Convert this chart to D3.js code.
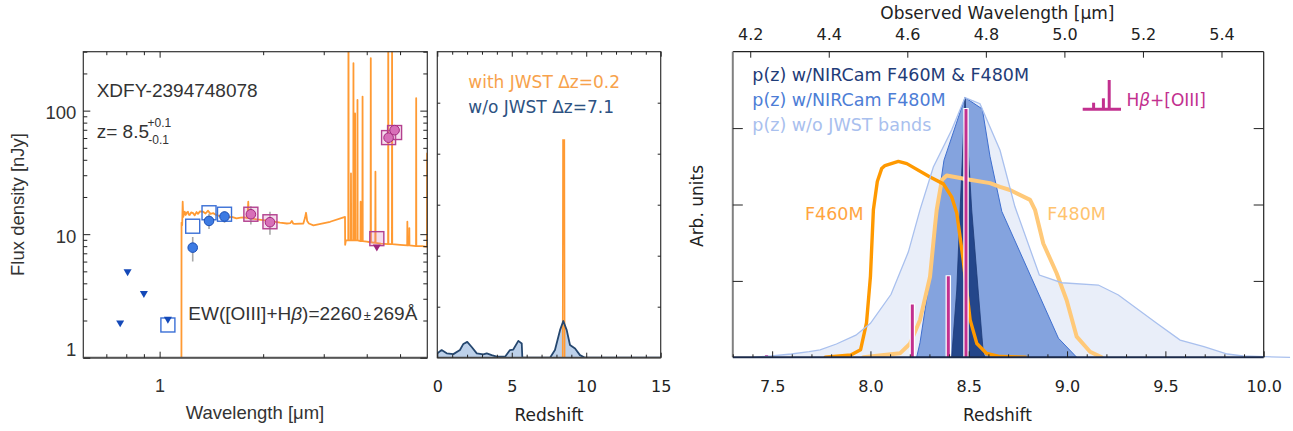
<!DOCTYPE html>
<html><head><meta charset="utf-8">
<script src="https://cdn.jsdelivr.net/npm/d3@7"></script>
<style>body{margin:0;background:#fff}svg{display:block}</style>
</head><body>
<svg id="c" width="1293" height="431"></svg>
<script>
// ---------------- DATA ----------------
// Panel 1: SED (wavelength in micron, flux density in nJy)
const sedModel = [
 [1.150,0.5],[1.157,0.5],[1.158,12.4],[1.163,11.8],[1.167,18.3],[1.171,13.8],[1.178,14.6],[1.183,15.2],
 [1.191,14.3],[1.200,15.0],[1.209,15.2],[1.215,14.4],[1.223,14.3],[1.235,15.0],[1.251,14.8],[1.265,14.2],
 [1.280,15.1],[1.293,14.6],[1.310,15.3],[1.338,15.2],[1.360,14.7],[1.383,15.5],[1.405,14.6],[1.431,14.8],
 [1.460,14.3],[1.496,14.0],[1.540,14.1],[1.582,13.7],[1.620,13.8],[1.673,13.4],[1.720,13.6],[1.769,13.7],
 [1.800,13.5],[1.810,18.3],[1.818,13.6],[1.830,13.4],[1.913,13.2],[2.000,13.0],[2.092,12.8],[2.238,12.4],
 [2.344,12.2],[2.400,12.3],[2.423,12.8],[2.445,12.2],[2.475,12.1],[2.617,12.2],[2.645,13.5],[2.665,14.9],
 [2.685,12.8],[2.716,12.2],[2.800,11.8],[3.131,12.6],[3.425,13.7],[3.459,13.8],[3.462,8.2],[3.480,8.9],
 [3.535,8.9],[3.540,1000],[3.545,8.9],[3.595,8.9],[3.600,31],[3.605,8.9],[3.655,8.9],[3.660,242],[3.665,8.9],
 [3.695,8.9],[3.700,95],[3.705,8.9],[3.755,8.9],[3.760,122],[3.765,8.9],[3.835,8.8],[3.840,18.3],[3.845,8.8],
 [3.885,8.8],[3.890,130],[3.895,8.8],[4.000,8.7],[4.105,8.6],[4.110,266],[4.115,8.6],[4.235,8.5],[4.240,32],
 [4.245,8.5],[4.400,8.4],[4.615,8.3],[4.620,1000],[4.625,8.3],[4.735,8.3],[4.740,1000],[4.745,8.3],[5.000,8.2],
 [5.245,8.1],[5.250,12.6],[5.255,8.1],[5.315,8.1],[5.320,11.2],[5.325,8.1],[5.565,8.0],[5.570,126],[5.575,8.0],
 [5.800,8.0],[5.985,7.9],[5.990,45],[5.995,7.9],[6.100,7.9]
];
const limBlue = [[0.768,1.92],[0.807,4.97],[0.900,3.32],[1.057,2.05]];
const detBlueWave = [1.248,1.392,1.544];
const detBlueFlux = [7.78,12.8,13.9];
const detBlueLo = [6.0,11.0,12.4];
const detBlueHi = [9.5,14.6,15.3];
const detPinkWave = [1.842,2.093,4.63,4.82];
const detPinkFlux = [14.5,12.5,60.4,69.5];
const detPinkLo = [12.0,9.9,57.0,66.0];
const detPinkHi = [16.8,15.2,64.0,73.0];
const limPink = [[4.28,7.9]];
const modelBlue = [[1.057,1.84],[1.248,11.6],[1.392,14.9],[1.544,14.5]];
const modelPink = [[1.842,14.5],[2.093,12.6],[4.28,9.2],[4.63,60.5],[4.82,66.5]];
const xTicksA = [1];
const xMinorA = [0.7,0.8,0.9,2,3,4,5];
const yTicksA = [1,10,100];
const yMinorA = [2,3,4,5,6,7,8,9,20,30,40,50,60,70,80,90,200,300];

// Panel 2: p(z) with / without JWST
const pzNoJwstZ = [0,0.29,0.63,1.08,1.52,1.75,2.01,2.31,2.65,3.09,3.32,3.65,3.99,4.55,4.88,5.10,5.44,5.67,5.71,7.57,7.90,8.24,8.46,8.69,8.91,9.25,9.58,9.92,15];
const pzNoJwstP = [0.086,0.15,0.086,0.07,0.15,0.27,0.31,0.21,0.086,0.065,0.086,0.05,0.02,0.02,0.15,0.16,0.33,0.28,0,0,0.15,0.54,0.72,0.54,0.25,0.18,0.05,0,0];
const pzJwstZ = [0.2,8.42,8.44,8.53,8.55,9.8];
const pzJwstP = [0,0,4.27,4.27,0,0];
const xTicksM = [0,5,10,15];
const xMinorM = [1,2,3,4,6,7,8,9,11,12,13,14];
const yTicksM = [1,2,3,4,5];

// Panel 3: zoomed p(z), filters, lines
const pzNoZ = [7.40,7.495,7.598,7.688,7.744,7.827,7.926,8.0,8.105,8.193,8.252,8.32,8.413,8.481,8.557,8.659,8.735,8.859,8.973,9.159,9.261,9.456,9.575,9.696,9.815,9.895,10.0,10.134];
const pzNoP = [0,0.017,0.043,0.073,0.096,0.174,0.29,0.445,0.825,1.38,1.93,2.49,2.975,3.40,3.32,2.71,1.97,1.077,0.976,0.946,0.815,0.445,0.226,0.139,0.043,0.017,0.008,0];
const pz480Z = [8.235,8.252,8.303,8.337,8.374,8.481,8.569,8.608,8.668,8.956,9.049];
const pz480P = [0,0.19,1.05,1.93,2.58,3.40,3.25,2.63,1.91,0.25,0];
const pzBothZ = [8.413,8.439,8.456,8.481,8.515,8.549,8.574,8.583];
const pzBothP = [0,0.88,1.93,3.40,1.93,0.84,0.056,0];
const f460Z = [7.77,7.90,7.95,7.98,8.0,8.015,8.035,8.057,8.074,8.142,8.185,8.303,8.371,8.413,8.439,8.472,8.507,8.541,8.591,8.659,8.79];
const f460T = [0,0.03,0.1,0.45,1.06,1.93,2.3,2.47,2.51,2.565,2.535,2.36,2.27,2.10,1.89,1.27,0.49,0.18,0.05,0.01,0];
const f480Z = [7.964,8.150,8.201,8.252,8.303,8.328,8.337,8.363,8.388,8.490,8.608,8.659,8.710,8.812,8.837,8.879,8.947,8.998,9.049,9.117,9.176];
const f480T = [0,0.052,0.178,0.488,1.055,1.71,1.93,2.32,2.38,2.33,2.28,2.23,2.19,2.06,1.93,1.49,1.10,0.746,0.27,0.073,0];
const lineZ = [7.472,8.213,8.396,8.486];
const lineH = [0.03,0.69,1.06,3.25];
const xTicksR = [7.5,8.0,8.5,9.0,9.5,10.0];
const xMinorR = [7.3,7.4,7.6,7.7,7.8,7.9,8.1,8.2,8.3,8.4,8.6,8.7,8.8,8.9,9.1,9.2,9.3,9.4,9.6,9.7,9.8,9.9];
const topTicksR = [4.2,4.4,4.6,4.8,5.0,5.2,5.4];
const yTicksR = [1,2,3];
const legendR = ["p(z) w/NIRCam F460M & F480M","p(z) w/NIRCam F480M","p(z) w/o JWST bands"];
const legendM = ["with JWST \u0394z=0.2","w/o JWST \u0394z=7.1"];

// ---------------- DRAW ----------------
const svg = d3.select('#c');
const FL = "'Liberation Sans', Arial, sans-serif";
const FR = "'DejaVu Sans', sans-serif";
const defs = svg.append('defs');
function clip(id, b){defs.append('clipPath').attr('id',id).append('rect').attr('x',b.l).attr('y',b.t).attr('width',b.r-b.l).attr('height',b.b-b.t);}
function fixAxis(g, font, size, col, stroke, sw){
  g.select('.domain').remove();
  g.selectAll('text').attr('font-family',font).attr('font-size',size).attr('fill',col);
  g.selectAll('line').attr('stroke',stroke||'#222').attr('stroke-width',sw||1);
}

// ===== Panel A =====
const A = {l:83.3,r:427.3,t:51.7,b:357.7};
clip('cA',A);
const xA = d3.scaleLog().domain([0.6,6]).range([A.l,A.r]);
const yA = d3.scaleLog().domain([1,300]).range([A.b,A.t]);
const gA = svg.append('g');
const pA = gA.append('g').attr('clip-path','url(#cA)');
pA.append('path').datum(sedModel)
  .attr('d',d3.line().x(d=>xA(d[0])).y(d=>yA(d[1])))
  .attr('fill','none').attr('stroke','#ff9a33').attr('stroke-width',1.8).attr('stroke-linejoin','round');
// error bars
const errCol = '#a8a8a8';
detBlueWave.forEach((w,i)=>{pA.append('line').attr('x1',xA(w)).attr('x2',xA(w)).attr('y1',yA(detBlueLo[i])).attr('y2',yA(detBlueHi[i])).attr('stroke',errCol).attr('stroke-width',1.6);});
detPinkWave.forEach((w,i)=>{pA.append('line').attr('x1',xA(w)).attr('x2',xA(w)).attr('y1',yA(detPinkLo[i])).attr('y2',yA(detPinkHi[i])).attr('stroke',errCol).attr('stroke-width',1.6);});
// model squares
const sq = 14;
pA.selectAll('.sqb').data(modelBlue).enter().append('rect')
  .attr('x',d=>xA(d[0])-sq/2).attr('y',d=>yA(d[1])-sq/2).attr('width',sq).attr('height',sq)
  .attr('fill','rgba(255,255,255,0)').attr('stroke','#3a6fd6').attr('stroke-width',1.4);
pA.selectAll('.sqp').data(modelPink).enter().append('rect')
  .attr('x',d=>xA(d[0])-sq/2).attr('y',d=>yA(d[1])-sq/2).attr('width',sq).attr('height',sq)
  .attr('fill','rgba(215,120,185,0.25)').attr('stroke','#b3408f').attr('stroke-width',1.4);
// triangles (upper limits)
const tri = d3.symbol().type(d3.symbolTriangle).size(28);
pA.selectAll('.lb').data(limBlue).enter().append('path').attr('d',tri)
  .attr('transform',d=>`translate(${xA(d[0])},${yA(d[1])}) rotate(180)`).attr('fill','#1449b8');
pA.selectAll('.lp').data(limPink).enter().append('path').attr('d',tri)
  .attr('transform',d=>`translate(${xA(d[0])},${yA(d[1])}) rotate(180)`).attr('fill','#a0257c');
// circles
detBlueWave.forEach((w,i)=>{pA.append('circle').attr('cx',xA(w)).attr('cy',yA(detBlueFlux[i])).attr('r',4.8).attr('fill','#3d7be3').attr('stroke','#1c4fb5').attr('stroke-width',1);});
detPinkWave.forEach((w,i)=>{pA.append('circle').attr('cx',xA(w)).attr('cy',yA(detPinkFlux[i])).attr('r',4.8).attr('fill','#d86fb8').attr('stroke','#a3287f').attr('stroke-width',1);});
// frame
gA.append('rect').attr('x',A.l).attr('y',A.t).attr('width',A.r-A.l).attr('height',A.b-A.t).attr('fill','none').attr('stroke','#333').attr('stroke-width',1.2);
gA.append('line').attr('x1',A.l).attr('x2',A.r).attr('y1',A.b).attr('y2',A.b).attr('stroke','#555').attr('stroke-width',2);
// axes
let ax;
ax = gA.append('g').attr('transform',`translate(0,${A.b})`).call(d3.axisBottom(xA).tickValues(xTicksA).tickFormat(d=>d).tickSizeInner(-6).tickSizeOuter(0).tickPadding(22));
fixAxis(ax,FL,18,'#333');
ax = gA.append('g').attr('transform',`translate(0,${A.b})`).call(d3.axisBottom(xA).tickValues(xMinorA).tickFormat('').tickSizeInner(-3.5).tickSizeOuter(0));
fixAxis(ax,FL,18,'#333');
ax = gA.append('g').attr('transform',`translate(0,${A.t})`).call(d3.axisTop(xA).tickValues(xTicksA).tickFormat('').tickSizeInner(-6).tickSizeOuter(0));
fixAxis(ax,FL,18,'#333');
ax = gA.append('g').attr('transform',`translate(0,${A.t})`).call(d3.axisTop(xA).tickValues(xMinorA).tickFormat('').tickSizeInner(-3.5).tickSizeOuter(0));
fixAxis(ax,FL,18,'#333');
ax = gA.append('g').attr('transform',`translate(${A.l},0)`).call(d3.axisLeft(yA).tickValues(yTicksA).tickFormat(d=>d).tickSizeInner(-7).tickSizeOuter(0).tickPadding(7));
fixAxis(ax,FL,18.5,'#333');
ax.selectAll('text').attr('dy',d=>d===1?'-0.1em':'0.45em');
ax = gA.append('g').attr('transform',`translate(${A.l},0)`).call(d3.axisLeft(yA).tickValues(yMinorA).tickFormat('').tickSizeInner(-4).tickSizeOuter(0));
fixAxis(ax,FL,18,'#333');
ax = gA.append('g').attr('transform',`translate(${A.r},0)`).call(d3.axisRight(yA).tickValues(yTicksA).tickFormat('').tickSizeInner(-7).tickSizeOuter(0));
fixAxis(ax,FL,18,'#333');
ax = gA.append('g').attr('transform',`translate(${A.r},0)`).call(d3.axisRight(yA).tickValues(yMinorA).tickFormat('').tickSizeInner(-4).tickSizeOuter(0));
fixAxis(ax,FL,18,'#333');
// labels
gA.append('text').attr('x',255).attr('y',419).attr('text-anchor','middle').attr('font-family',FL).attr('font-size',18.5).attr('fill','#333').text('Wavelength [\u03bcm]');
gA.append('text').attr('transform','translate(24,204.5) rotate(-90)').attr('text-anchor','middle').attr('font-family',FL).attr('font-size',18.5).attr('fill','#333').text('Flux density [nJy]');
gA.append('text').attr('x',96.7).attr('y',96.7).attr('font-family',FL).attr('font-size',19).attr('fill','#333').text('XDFY-2394748078');
gA.append('text').attr('x',96.7).attr('y',137.7).attr('font-family',FL).attr('font-size',19).attr('fill','#333').text('z= 8.5');
gA.append('text').attr('x',147.5).attr('y',127.3).attr('font-family',FL).attr('font-size',12).attr('fill','#333').text('+0.1');
gA.append('text').attr('x',148.3).attr('y',144).attr('font-family',FL).attr('font-size',12).attr('fill','#333').text('-0.1');
const ew = gA.append('text').attr('x',188.3).attr('y',319.5).attr('font-family',FL).attr('font-size',19).attr('fill','#333');
ew.append('tspan').text('EW([OIII]+H');
ew.append('tspan').attr('font-style','italic').text('\u03b2');
ew.append('tspan').text(')=2260');
ew.append('tspan').attr('font-size',13).attr('dx',2).text('\u00b1');
ew.append('tspan').attr('dx',2).text('269\u00c5');

// ===== Panel M =====
const M = {l:437.3,r:660.7,t:51.7,b:357.7};
clip('cM',M);
const xM = d3.scaleLinear().domain([0,15]).range([M.l,M.r]);
const yM = d3.scaleLinear().domain([0,6]).range([M.b,M.t]);
const gM = svg.append('g');
const pM = gM.append('g').attr('clip-path','url(#cM)');
const pzNo = pzNoJwstZ.map((z,i)=>[z,pzNoJwstP[i]]);
pM.append('path').datum(pzNo).attr('d',d3.area().x(d=>xM(d[0])).y0(yM(0)).y1(d=>yM(d[1]))).attr('fill','#bdd1ea');
pM.append('path').datum(pzJwstZ.map((z,i)=>[z,pzJwstP[i]])).attr('d',d3.line().x(d=>xM(d[0])).y(d=>yM(d[1]))).attr('fill','none').attr('stroke','#ff9a33').attr('stroke-width',1.6);
pM.append('path').datum(pzNo).attr('d',d3.line().x(d=>xM(d[0])).y(d=>yM(d[1]))).attr('fill','none').attr('stroke','#25476f').attr('stroke-width',1.8).attr('stroke-linejoin','round');
gM.append('rect').attr('x',M.l).attr('y',M.t).attr('width',M.r-M.l).attr('height',M.b-M.t).attr('fill','none').attr('stroke','#333').attr('stroke-width',1.2);
gM.append('line').attr('x1',M.l).attr('x2',M.r).attr('y1',M.b).attr('y2',M.b).attr('stroke','#444').attr('stroke-width',1.8);
ax = gM.append('g').attr('transform',`translate(0,${M.b})`).call(d3.axisBottom(xM).tickValues(xTicksM).tickFormat(d=>d).tickSizeInner(-5).tickSizeOuter(0).tickPadding(23));
fixAxis(ax,FR,16,'#222');
ax = gM.append('g').attr('transform',`translate(0,${M.b})`).call(d3.axisBottom(xM).tickValues(xMinorM).tickFormat('').tickSizeInner(-3).tickSizeOuter(0));
fixAxis(ax,FR,16,'#222');
ax = gM.append('g').attr('transform',`translate(0,${M.t})`).call(d3.axisTop(xM).tickValues(xTicksM).tickFormat('').tickSizeInner(-5).tickSizeOuter(0));
fixAxis(ax,FR,16,'#222');
ax = gM.append('g').attr('transform',`translate(0,${M.t})`).call(d3.axisTop(xM).tickValues(xMinorM).tickFormat('').tickSizeInner(-3).tickSizeOuter(0));
fixAxis(ax,FR,16,'#222');
ax = gM.append('g').attr('transform',`translate(${M.l},0)`).call(d3.axisLeft(yM).tickValues(yTicksM).tickFormat('').tickSizeInner(-3).tickSizeOuter(0));
fixAxis(ax,FR,16,'#222');
ax = gM.append('g').attr('transform',`translate(${M.r},0)`).call(d3.axisRight(yM).tickValues(yTicksM).tickFormat('').tickSizeInner(-3).tickSizeOuter(0));
fixAxis(ax,FR,16,'#222');
gM.append('text').attr('x',549).attr('y',421).attr('text-anchor','middle').attr('font-family',FR).attr('font-size',17).attr('fill','#222').text('Redshift');
gM.append('text').attr('x',468.3).attr('y',88.3).attr('font-family',FR).attr('font-size',17).attr('fill','#f7a24c').text(legendM[0]);
gM.append('text').attr('x',468.3).attr('y',112.7).attr('font-family',FR).attr('font-size',17).attr('fill','#2d5282').text(legendM[1]);

// ===== Panel R =====
const R = {l:732.8,r:1263.7,t:51.7,b:357.3};
clip('cR',R);
const xR = d3.scaleLinear().domain([7.3,10]).range([R.l,R.r]);
const yR = d3.scaleLinear().domain([0,4]).range([R.b,R.t]);
const lam0 = 0.50068;
const xRtop = d3.scaleLinear().domain([lam0*8.3,lam0*11]).range([R.l,R.r]);
const gR = svg.append('g');
const pR = gR.append('g').attr('clip-path','url(#cR)');
const areaR = d3.area().x(d=>xR(d[0])).y0(yR(0)).y1(d=>yR(d[1]));
const lineR = d3.line().x(d=>xR(d[0])).y(d=>yR(d[1]));
const dNo = pzNoZ.map((z,i)=>[z,pzNoP[i]]);
const d480 = pz480Z.map((z,i)=>[z,pz480P[i]]);
const dBoth = pzBothZ.map((z,i)=>[z,pzBothP[i]]);
pR.append('path').datum(dNo).attr('d',areaR).attr('fill','#e9eef9');
gR.append('path').datum(dNo).attr('d',lineR).attr('fill','none').attr('stroke','#a9c0ee').attr('stroke-width',1.3);
pR.append('path').datum(d480).attr('d',areaR).attr('fill','#84a3de').attr('stroke','#3f6fcf').attr('stroke-width',1);
pR.append('path').datum(dBoth).attr('d',areaR).attr('fill','#24468a').attr('stroke','#1d3a76').attr('stroke-width',0.8);
pR.append('path').datum(f480Z.map((z,i)=>[z,f480T[i]])).attr('d',lineR).attr('fill','none').attr('stroke','#ffc979').attr('stroke-width',4).attr('stroke-linejoin','round').attr('stroke-linecap','round');
pR.append('path').datum(f460Z.map((z,i)=>[z,f460T[i]])).attr('d',lineR).attr('fill','none').attr('stroke','#ff9900').attr('stroke-width',3.4).attr('stroke-linejoin','round').attr('stroke-linecap','round');
lineZ.forEach((z,i)=>{
  pR.append('line').attr('x1',xR(z)).attr('x2',xR(z)).attr('y1',yR(0)).attr('y2',yR(lineH[i])-1).attr('stroke','#fff').attr('stroke-width',5.5);
  pR.append('line').attr('x1',xR(z)).attr('x2',xR(z)).attr('y1',yR(0)).attr('y2',yR(lineH[i])).attr('stroke','#c2308f').attr('stroke-width',3);
});
// frame
gR.append('line').attr('x1',R.l).attr('x2',R.r).attr('y1',R.t).attr('y2',R.t).attr('stroke','#222').attr('stroke-width',1.2);
gR.append('line').attr('x1',R.r).attr('x2',R.r).attr('y1',R.t).attr('y2',R.b).attr('stroke','#222').attr('stroke-width',1.2);
gR.append('line').attr('x1',R.l).attr('x2',R.l).attr('y1',R.t).attr('y2',R.b).attr('stroke','#808080').attr('stroke-width',2);
gR.append('line').attr('x1',R.l).attr('x2',R.r).attr('y1',R.b).attr('y2',R.b).attr('stroke','#1b2a4a').attr('stroke-width',2);
ax = gR.append('g').attr('transform',`translate(0,${R.b})`).call(d3.axisBottom(xR).tickValues(xTicksR).tickFormat(d3.format('.1f')).tickSizeInner(-6).tickSizeOuter(0).tickPadding(23));
fixAxis(ax,FR,16,'#222');
ax = gR.append('g').attr('transform',`translate(0,${R.b})`).call(d3.axisBottom(xR).tickValues(xMinorR).tickFormat('').tickSizeInner(-3).tickSizeOuter(0));
fixAxis(ax,FR,16,'#222');
ax = gR.append('g').attr('transform',`translate(0,${R.t})`).call(d3.axisTop(xRtop).tickValues(topTicksR).tickFormat(d3.format('.1f')).tickSizeInner(-6).tickSizeOuter(0).tickPadding(12));
fixAxis(ax,FR,16,'#222');
ax = gR.append('g').attr('transform',`translate(${R.l},0)`).call(d3.axisLeft(yR).tickValues(yTicksR).tickFormat('').tickSizeInner(-10).tickSizeOuter(0));
fixAxis(ax,FR,16,'#222');
ax = gR.append('g').attr('transform',`translate(${R.r},0)`).call(d3.axisRight(yR).tickValues(yTicksR).tickFormat('').tickSizeInner(-10).tickSizeOuter(0));
fixAxis(ax,FR,16,'#222');
gR.append('text').attr('x',997.4).attr('y',421).attr('text-anchor','middle').attr('font-family',FR).attr('font-size',17).attr('fill','#222').text('Redshift');
gR.append('text').attr('x',997.4).attr('y',19).attr('text-anchor','middle').attr('font-family',FR).attr('font-size',17).attr('fill','#222').text('Observed Wavelength [\u03bcm]');
gR.append('text').attr('transform','translate(703,206) rotate(-90)').attr('text-anchor','middle').attr('font-family',FR).attr('font-size',17).attr('fill','#222').text('Arb. units');
const legCols = ['#1f3c78','#4d7dd6','#a9c0ee'];
legendR.forEach((t,i)=>{gR.append('text').attr('x',752.3).attr('y',81+i*24.8).attr('font-family',FR).attr('font-size',17.5).attr('fill',legCols[i]).text(t);});
gR.append('text').attr('x',805).attr('y',220).attr('font-family',FR).attr('font-size',17.5).attr('fill','#ffa53f').text('F460M');
gR.append('text').attr('x',1047.3).attr('y',220).attr('font-family',FR).attr('font-size',17.5).attr('fill','#ffc36e').text('F480M');
// Hbeta+[OIII] legend icon
const mag = '#c2308f';
gR.append('line').attr('x1',1082.7).attr('x2',1121).attr('y1',109.3).attr('y2',109.3).attr('stroke',mag).attr('stroke-width',3);
[[1093.6,102.7],[1103.4,98.3],[1109.2,80]].forEach(d=>{gR.append('line').attr('x1',d[0]).attr('x2',d[0]).attr('y1',109.3).attr('y2',d[1]).attr('stroke',mag).attr('stroke-width',3);});
const hb = gR.append('text').attr('x',1126.4).attr('y',106).attr('font-family',FR).attr('font-size',17).attr('fill',mag);
hb.append('tspan').text('H');
hb.append('tspan').attr('font-style','italic').text('\u03b2');
hb.append('tspan').text('+[OIII]');
</script>
</body></html>
